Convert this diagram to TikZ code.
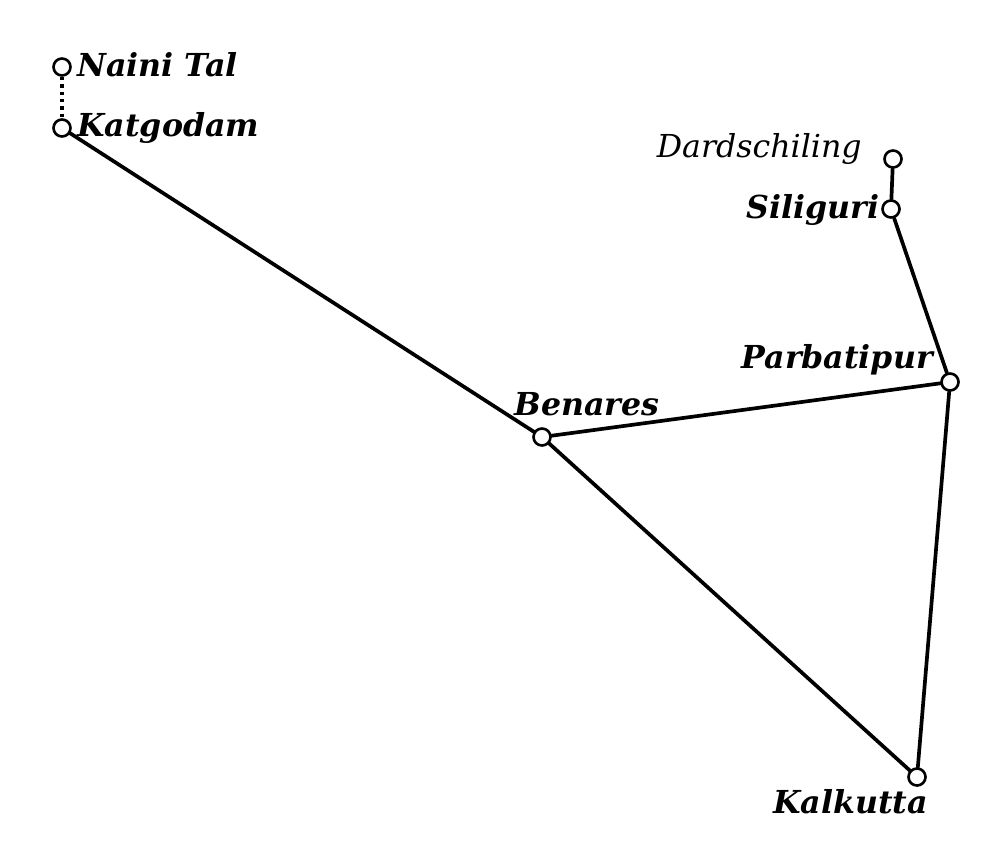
\documentclass[tikz,border=0pt]{standalone}
\usepackage{fontspec}
\setmainfont{DejaVu Serif}
\usepackage{tikz}
\usetikzlibrary{shapes}
\tikzstyle{Station}=[circle,draw=black,fill=white,inner sep=0pt,
minimum size=0.34cm,line width=1.5pt]
\tikzstyle{Line}=[draw=black,line width=2.1pt,line cap=round]
\tikzstyle{Branch}=[draw=black,line width=2pt,dash pattern=on 2pt off 2.2pt]
\tikzstyle{Name}=[font=\fontsize{18}{21}\selectfont\bfseries\itshape,inner sep=0pt]
\tikzstyle{NameLight}=[font=\fontsize{18}{21}\selectfont\itshape,inner sep=0pt]

\begin{document}
\begin{tikzpicture}[x=0.02cm,y=-0.02cm]
        \useasboundingbox(0,0)rectangle(1000,845);
        \node[Station](nt)at(62,67){};
        \node[Station](kg)at(62,128){};
        \node[Station](da)at(893,159){};
        \node[Station](si)at(891,209){};
        \node[Station](pa)at(950,382){};
        \node[Station](be)at(542,437){};
        \node[Station](ka)at(917,777){};
        \node[Name,anchor=base west](ntl)at(77,76){Naini Tal};
        \node[Name,anchor=base west](kgl)at(77,136){Katgodam};
        \node[NameLight,anchor=base east](dal)at(862,157){Dardschiling};
        \node[Name,anchor=base east](sil)at(880,218){Siliguri};
        \node[Name,anchor=base east](pal)at(933,368){Parbatipur};
        \node[Name,anchor=base west](bel)at(514,415){Benares};
        \node[Name,anchor=base west](kal)at(773,813){Kalkutta};
        \draw[Branch](nt)--(kg);
        \draw[Line](kg)--(be);
        \draw[Line](be)--(ka);
        \draw[Line](be)--(pa);
        \draw[Line](pa)--(ka);
        \draw[Line](pa)--(si);
        \draw[Line](si)--(da);
    \end{tikzpicture}
\end{document}
